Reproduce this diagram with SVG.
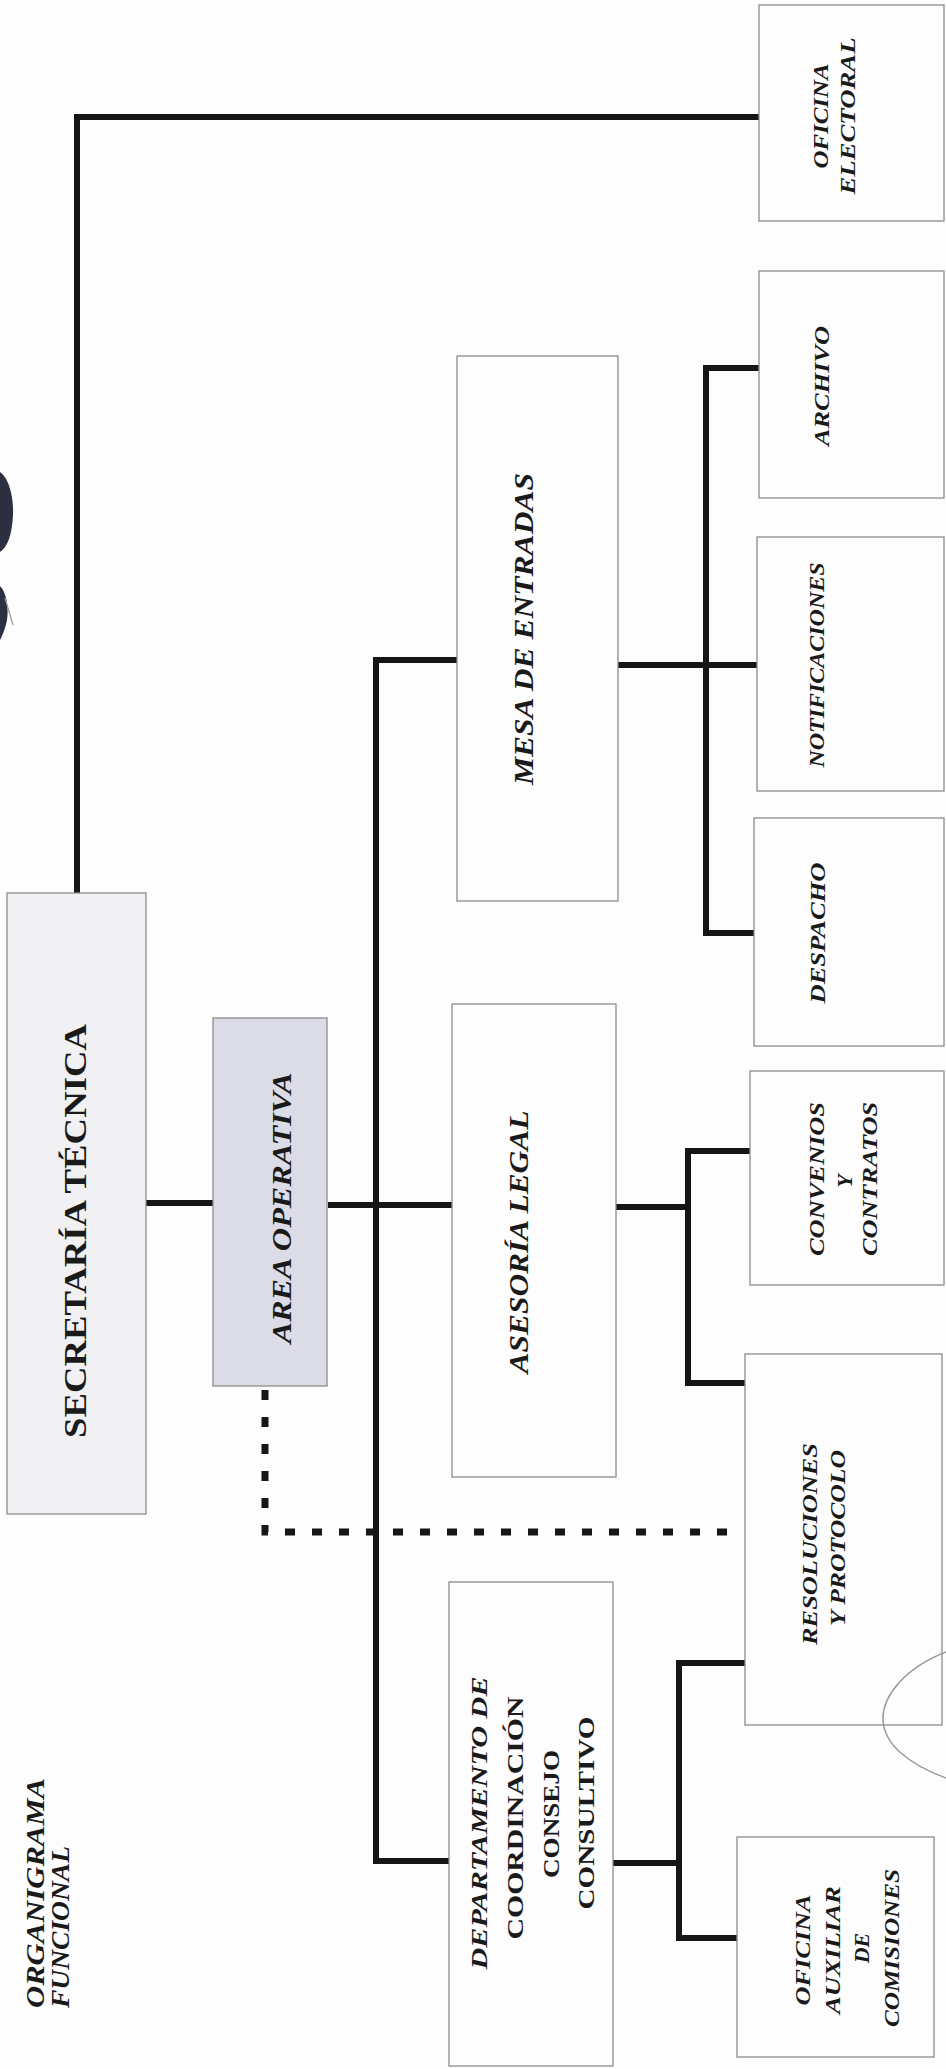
<svg xmlns="http://www.w3.org/2000/svg" width="946" height="2069" viewBox="0 0 946 2069">
<style>
.box{fill:#fdfdfd;stroke:#8c8c8c;stroke-width:1.3}
.t{font-family:"Liberation Serif","Times New Roman",serif;font-weight:bold;fill:#1a1a1a;text-anchor:middle}
.s{text-anchor:start}
.i{font-style:italic}
.ln{fill:none;stroke:#161616;stroke-width:6;stroke-linejoin:miter}
.dash{fill:none;stroke:#161616;stroke-width:7;stroke-dasharray:10 17}
</style>
<rect width="946" height="2069" fill="#fdfdfd"/>
<g id="logo-fragment">
<path d="M0,472 C9,478 14,498 13,515 C12,534 8,547 0,552 Z" fill="#2b2f40"/>
<path d="M0,586 C6,592 9,606 7,620 C5,630 2,636 0,640 Z" fill="#2b2f40"/>
<path d="M5,598 L13,625" stroke="#9a9aa2" stroke-width="1.2" fill="none"/>
</g>
<g id="connectors">
<path class="ln" d="M77,893 V117 H759"/>
<path class="ln" d="M108,1203 H213"/>
<path class="ln" d="M328,1205 H452"/>
<path class="ln" d="M457,660 H376 V1861 H449"/>
<path class="ln" d="M618,665 H757"/>
<path class="ln" d="M759,368 H706 V933 H754"/>
<path class="ln" d="M616,1207 H688"/>
<path class="ln" d="M750,1151 H688 V1383 H745"/>
<path class="ln" d="M613,1863 H679"/>
<path class="ln" d="M745,1663 H679 V1938 H737"/>
<path class="dash" d="M265,1390 V1532 H738"/>
</g>
<g id="titulo">
<text class="t i s" font-size="26" transform="translate(44,2008) rotate(-90)" textLength="230" lengthAdjust="spacingAndGlyphs">ORGANIGRAMA</text>
<text class="t i s" font-size="26" transform="translate(69,2008) rotate(-90)" textLength="162" lengthAdjust="spacingAndGlyphs">FUNCIONAL</text>
</g>
<g id="secretaria-tecnica">
<rect x="7" y="893" width="139" height="621" fill="#f1f1f3" stroke="#8c8c8c" stroke-width="1.3"/>
<text class="t" font-size="31" transform="translate(86,1231) rotate(-90)" textLength="414" lengthAdjust="spacingAndGlyphs">SECRETARÍA TÉCNICA</text>
</g>
<g id="area-operativa">
<rect x="213" y="1018" width="114" height="368" fill="#dcdce6" stroke="#8c8c8c" stroke-width="1.3"/>
<text class="t i" font-size="27" transform="translate(291,1208) rotate(-90)" textLength="271" lengthAdjust="spacingAndGlyphs">AREA OPERATIVA</text>
</g>
<g id="mesa-de-entradas">
<rect class="box" x="457" y="356" width="161" height="545"/>
<text class="t i" font-size="27" transform="translate(533,629) rotate(-90)" textLength="312" lengthAdjust="spacingAndGlyphs">MESA DE ENTRADAS</text>
</g>
<g id="asesoria-legal">
<rect class="box" x="452" y="1004" width="164" height="473"/>
<text class="t i" font-size="27" transform="translate(528,1242) rotate(-90)" textLength="263" lengthAdjust="spacingAndGlyphs">ASESORÍA LEGAL</text>
</g>
<g id="departamento-coordinacion">
<rect class="box" x="449" y="1582" width="164" height="484"/>
<text class="t i" font-size="24" transform="translate(487,1823) rotate(-90)" textLength="293" lengthAdjust="spacingAndGlyphs">DEPARTAMENTO DE</text>
<text class="t" font-size="24" transform="translate(523,1818) rotate(-90)" textLength="243" lengthAdjust="spacingAndGlyphs">COORDINACIÓN</text>
<text class="t" font-size="24" transform="translate(559,1814) rotate(-90)" textLength="128" lengthAdjust="spacingAndGlyphs">CONSEJO</text>
<text class="t" font-size="24" transform="translate(594,1813) rotate(-90)" textLength="193" lengthAdjust="spacingAndGlyphs">CONSULTIVO</text>
</g>
<g id="oficina-electoral">
<rect class="box" x="759" y="5" width="185" height="216"/>
<text class="t i" font-size="22" transform="translate(828,116) rotate(-90)" textLength="105" lengthAdjust="spacingAndGlyphs">OFICINA</text>
<text class="t i" font-size="22" transform="translate(855,116) rotate(-90)" textLength="157" lengthAdjust="spacingAndGlyphs">ELECTORAL</text>
</g>
<g id="archivo">
<rect class="box" x="759" y="271" width="185" height="227"/>
<text class="t i" font-size="22" transform="translate(829,386) rotate(-90)" textLength="120" lengthAdjust="spacingAndGlyphs">ARCHIVO</text>
</g>
<g id="notificaciones">
<rect class="box" x="757" y="537" width="187" height="254"/>
<text class="t i" font-size="21" transform="translate(824,665) rotate(-90)" textLength="205" lengthAdjust="spacingAndGlyphs">NOTIFICACIONES</text>
</g>
<g id="despacho">
<rect class="box" x="754" y="818" width="190" height="228"/>
<text class="t i" font-size="22" transform="translate(825,933) rotate(-90)" textLength="141" lengthAdjust="spacingAndGlyphs">DESPACHO</text>
</g>
<g id="convenios-contratos">
<rect class="box" x="750" y="1071" width="194" height="214"/>
<text class="t i" font-size="22" transform="translate(824,1179) rotate(-90)" textLength="154" lengthAdjust="spacingAndGlyphs">CONVENIOS</text>
<text class="t i" font-size="22" transform="translate(852,1181) rotate(-90)">Y</text>
<text class="t i" font-size="22" transform="translate(877,1179) rotate(-90)" textLength="154" lengthAdjust="spacingAndGlyphs">CONTRATOS</text>
</g>
<g id="resoluciones-protocolo">
<rect class="box" x="745" y="1354" width="197" height="371"/>
<text class="t i" font-size="22" transform="translate(817,1544) rotate(-90)" textLength="202" lengthAdjust="spacingAndGlyphs">RESOLUCIONES</text>
<text class="t i" font-size="22" transform="translate(845,1538) rotate(-90)" textLength="176" lengthAdjust="spacingAndGlyphs">Y PROTOCOLO</text>
</g>
<g id="oficina-auxiliar">
<rect class="box" x="737" y="1837" width="197" height="220"/>
<text class="t i" font-size="22" transform="translate(810,1950) rotate(-90)" textLength="111" lengthAdjust="spacingAndGlyphs">OFICINA</text>
<text class="t i" font-size="22" transform="translate(840,1950) rotate(-90)" textLength="128" lengthAdjust="spacingAndGlyphs">AUXILIAR</text>
<text class="t i" font-size="22" transform="translate(869,1948) rotate(-90)">DE</text>
<text class="t i" font-size="22" transform="translate(899,1948) rotate(-90)" textLength="158" lengthAdjust="spacingAndGlyphs">COMISIONES</text>
</g>
<path d="M946,1652 C905,1668 882,1696 883,1720 C884,1744 908,1764 946,1778" fill="none" stroke="#9a9a9a" stroke-width="1.5"/>
</svg>
